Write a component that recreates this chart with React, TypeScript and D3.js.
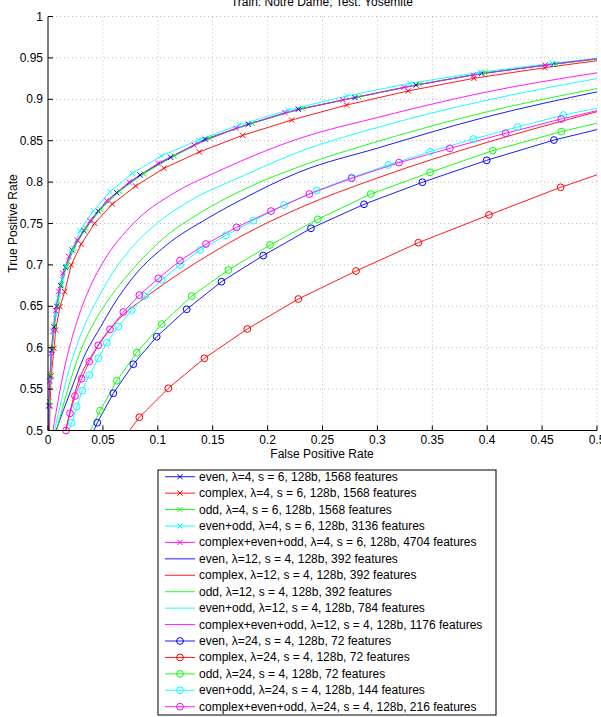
import * as d3 from "d3";

type Pt = [number, number];

// axis ticks
const xTicks = [0, 0.05, 0.1, 0.15, 0.2, 0.25, 0.3, 0.35, 0.4, 0.45, 0.5];
const yTicks = [0.5, 0.55, 0.6, 0.65, 0.7, 0.75, 0.8, 0.85, 0.9, 0.95, 1];

// lambda = 4 (x markers)
const even4: Pt[] = [[0, 0.47], [0.001, 0.53], [0.002, 0.565], [0.0035, 0.597], [0.0055, 0.625], [0.008, 0.65], [0.0115, 0.675], [0.016, 0.697], [0.022, 0.718], [0.0328, 0.7415], [0.0458, 0.765], [0.0626, 0.7872], [0.0838, 0.8086], [0.1117, 0.83], [0.143, 0.8517], [0.1824, 0.8698], [0.228, 0.888], [0.2796, 0.902], [0.3352, 0.9172], [0.395, 0.9314], [0.4602, 0.9423], [0.53, 0.954]];
const complex4: Pt[] = [[0.001, 0.47], [0.0018, 0.53], [0.003, 0.566], [0.0055, 0.5993], [0.007, 0.6214], [0.0109, 0.6495], [0.0152, 0.6676], [0.0212, 0.6999], [0.0303, 0.7252], [0.0425, 0.7502], [0.0586, 0.7735], [0.0798, 0.7953], [0.1056, 0.8167], [0.1378, 0.8364], [0.1773, 0.8565], [0.2219, 0.875], [0.272, 0.8931], [0.3281, 0.9101], [0.388, 0.9254], [0.4526, 0.9382], [0.525, 0.951]];
const odd4: Pt[] = [[0, 0.47], [0.0012, 0.535], [0.0022, 0.568], [0.0038, 0.6], [0.006, 0.627], [0.0087, 0.652], [0.0122, 0.676], [0.017, 0.698], [0.0235, 0.72], [0.0345, 0.744], [0.048, 0.767], [0.065, 0.789], [0.087, 0.81], [0.115, 0.8315], [0.147, 0.853], [0.186, 0.871], [0.232, 0.889], [0.283, 0.903], [0.338, 0.918], [0.398, 0.932], [0.463, 0.9428], [0.53, 0.953]];
const evenOdd4: Pt[] = [[0, 0.47], [0.001, 0.529], [0.0018, 0.561], [0.003, 0.593], [0.0048, 0.619], [0.007, 0.64], [0.0095, 0.66], [0.013, 0.682], [0.016, 0.698], [0.021, 0.716], [0.0291, 0.741], [0.0413, 0.7655], [0.0565, 0.7884], [0.0768, 0.8106], [0.1032, 0.8315], [0.137, 0.8508], [0.1742, 0.869], [0.2189, 0.8871], [0.272, 0.904], [0.3297, 0.9193], [0.3934, 0.9326], [0.4593, 0.9435], [0.53, 0.954]];
const all4: Pt[] = [[0, 0.47], [0.0008, 0.53], [0.0015, 0.56], [0.0028, 0.593], [0.0045, 0.62], [0.0068, 0.645], [0.0098, 0.668], [0.0135, 0.69], [0.019, 0.71], [0.0267, 0.73], [0.0383, 0.7534], [0.0535, 0.7776], [0.0738, 0.7999], [0.1002, 0.8227], [0.133, 0.8448], [0.1712, 0.865], [0.2158, 0.8838], [0.2684, 0.8992], [0.3242, 0.9145], [0.3874, 0.9293], [0.4526, 0.9414], [0.525, 0.953]];

// lambda = 12 (no markers)
const even12: Pt[] = [[0.0073, 0.5], [0.0207, 0.548], [0.0328, 0.589], [0.048, 0.6253], [0.0586, 0.6495], [0.08, 0.689], [0.108, 0.724], [0.145, 0.756], [0.175, 0.778], [0.2295, 0.8125], [0.3, 0.841], [0.4, 0.879], [0.5, 0.909]];
const complex12: Pt[] = [[0.016, 0.5], [0.0255, 0.55], [0.0443, 0.6], [0.065, 0.635], [0.09, 0.662], [0.12, 0.69], [0.1475, 0.713], [0.175, 0.734], [0.2295, 0.769], [0.3, 0.805], [0.4, 0.848], [0.5, 0.885]];
const odd12: Pt[] = [[0.0079, 0.5], [0.0176, 0.548], [0.0298, 0.5966], [0.0449, 0.6374], [0.0571, 0.6616], [0.08, 0.699], [0.105, 0.732], [0.14, 0.764], [0.175, 0.789], [0.2295, 0.819], [0.3, 0.849], [0.4, 0.885], [0.5, 0.913]];
const evenOdd12: Pt[] = [[0.006, 0.5], [0.0191, 0.573], [0.0328, 0.6253], [0.048, 0.6657], [0.0571, 0.6868], [0.075, 0.719], [0.1, 0.751], [0.13, 0.778], [0.175, 0.806], [0.2295, 0.837], [0.3, 0.866], [0.4, 0.899], [0.5, 0.925]];
const all12: Pt[] = [[0.0045, 0.5], [0.0146, 0.573], [0.0267, 0.633], [0.0389, 0.675], [0.051, 0.705], [0.0777, 0.75], [0.115, 0.787], [0.15, 0.81], [0.175, 0.825], [0.2295, 0.853], [0.3, 0.878], [0.4, 0.909], [0.5, 0.932]];

// lambda = 24 (o markers)
const even24: Pt[] = [[0.034, 0.477], [0.0449, 0.5094], [0.0595, 0.545], [0.0777, 0.58], [0.099, 0.6133], [0.1263, 0.6464], [0.158, 0.6797], [0.196, 0.7113], [0.2395, 0.7442], [0.2878, 0.7732], [0.341, 0.7998], [0.3995, 0.8263], [0.4608, 0.8508], [0.53, 0.873]];
const complex24: Pt[] = [[0.06, 0.475], [0.0832, 0.516], [0.1096, 0.551], [0.1424, 0.5872], [0.1815, 0.6226], [0.228, 0.6588], [0.2805, 0.6926], [0.3373, 0.7268], [0.4016, 0.7603], [0.4669, 0.7937], [0.54, 0.827]];
const odd24: Pt[] = [[0.035, 0.49], [0.0474, 0.5239], [0.0626, 0.5601], [0.0808, 0.594], [0.1036, 0.6286], [0.1309, 0.6624], [0.1642, 0.6938], [0.2022, 0.724], [0.2456, 0.755], [0.294, 0.7856], [0.348, 0.8118], [0.405, 0.838], [0.4675, 0.861], [0.535, 0.882]];
const evenOdd24: Pt[] = [[0.014, 0.48], [0.0216, 0.5094], [0.0261, 0.5287], [0.0312, 0.5481], [0.0376, 0.567], [0.0458, 0.5872], [0.0535, 0.606], [0.064, 0.6254], [0.0762, 0.6455], [0.0883, 0.6624], [0.1036, 0.6818], [0.1202, 0.6999], [0.1384, 0.718], [0.162, 0.7357], [0.187, 0.7534], [0.215, 0.7723], [0.2447, 0.7897], [0.2765, 0.8055], [0.31, 0.8207], [0.348, 0.8367], [0.3874, 0.852], [0.4277, 0.8665], [0.4693, 0.881], [0.51, 0.892]];
const all24: Pt[] = [[0.012, 0.48], [0.0164, 0.5], [0.02, 0.5208], [0.0246, 0.5417], [0.0307, 0.5626], [0.0376, 0.5831], [0.0458, 0.6029], [0.0565, 0.6222], [0.0686, 0.6431], [0.0832, 0.6635], [0.1005, 0.6837], [0.1202, 0.7051], [0.1439, 0.7252], [0.1718, 0.7454], [0.2031, 0.765], [0.238, 0.7856], [0.2766, 0.8046], [0.3197, 0.8235], [0.366, 0.8408], [0.4168, 0.859], [0.4675, 0.8762], [0.525, 0.894]];

const labels = [
  "even, λ=4, s = 6, 128b, 1568 features",
  "complex, λ=4, s = 6, 128b, 1568 features",
  "odd, λ=4, s = 6, 128b, 1568 features",
  "even+odd, λ=4, s = 6, 128b, 3136 features",
  "complex+even+odd, λ=4, s = 6, 128b, 4704 features",
  "even, λ=12, s = 4, 128b, 392 features",
  "complex, λ=12, s = 4, 128b, 392 features",
  "odd, λ=12, s = 4, 128b, 392 features",
  "even+odd, λ=12, s = 4, 128b, 784 features",
  "complex+even+odd, λ=12, s = 4, 128b, 1176 features",
  "even, λ=24, s = 4, 128b, 72 features",
  "complex, λ=24, s = 4, 128b, 72 features",
  "odd, λ=24, s = 4, 128b, 72 features",
  "even+odd, λ=24, s = 4, 128b, 144 features",
  "complex+even+odd, λ=24, s = 4, 128b, 216 features",
];
const colors = ["#0000ff", "#ff0000", "#00ff00", "#00ffff", "#ff00ff"];
const seriesData = [even4, complex4, odd4, evenOdd4, all4, even12, complex12, odd12, evenOdd12, all12, even24, complex24, odd24, evenOdd24, all24];

const series = seriesData.map((points, i) => ({
  points,
  label: labels[i],
  color: colors[i % 5],
  marker: i < 5 ? "x" : i < 10 ? "none" : "o",
}));

const FONT = "'Liberation Sans', Arial, Helvetica, sans-serif";

function Marker({ type, cx, cy, color }: { type: string; cx: number; cy: number; color: string }) {
  if (type === "x") {
    const s = 2.6;
    return (
      <path
        d={`M${cx - s},${cy - s}L${cx + s},${cy + s}M${cx - s},${cy + s}L${cx + s},${cy - s}`}
        stroke={color}
        strokeWidth={1}
        fill="none"
      />
    );
  }
  if (type === "o") {
    return <circle cx={cx} cy={cy} r={3.4} stroke={color} strokeWidth={1} fill="none" />;
  }
  return null;
}

export default function App() {
  const width = 601;
  const height = 717;
  const left = 48, right = 597, top = 16.5, bottom = 430.5;

  const x = d3.scaleLinear().domain([0, 0.5]).range([left, right]);
  const y = d3.scaleLinear().domain([0.5, 1]).range([bottom, top]);

  const linear = d3.line<Pt>().x((d) => x(d[0])).y((d) => y(d[1]));
  const smooth = d3.line<Pt>().x((d) => x(d[0])).y((d) => y(d[1])).curve(d3.curveMonotoneX);

  const fmt = (v: number) => String(+v.toFixed(2));

  const legendX = 158, legendY = 470, legendW = 338, legendH = 245;
  const rowY = (i: number) => 476.7 + i * 16.43;

  return (
    <svg
      width={width}
      height={height}
      style={{ position: "absolute", left: 0, top: 0, background: "#fff" }}
      fontFamily={FONT}
    >
      <defs>
        <clipPath id="plotClip">
          <rect x={left} y={top} width={right - left} height={bottom - top} />
        </clipPath>
      </defs>

      {/* grid */}
      {xTicks.filter((t) => t > 0).map((t) => (
        <line key={"gx" + t} x1={x(t)} x2={x(t)} y1={top} y2={bottom} stroke="#a8a8a8" strokeWidth={0.8} strokeDasharray="1,3" />
      ))}
      {yTicks.filter((t) => t > 0.5).map((t) => (
        <line key={"gy" + t} x1={left} x2={right} y1={y(t)} y2={y(t)} stroke="#a8a8a8" strokeWidth={0.8} strokeDasharray="1,3" />
      ))}

      {/* curves */}
      <g clipPath="url(#plotClip)">
        {series.map((s, i) => (
          <path
            key={"l" + i}
            d={(s.marker === "none" ? smooth : linear)(s.points) || ""}
            stroke={s.color}
            strokeWidth={0.9}
            fill="none"
          />
        ))}
      </g>
      {series.map((s, i) =>
        s.points
          .filter((p) => p[0] >= 0 && p[0] <= 0.5 + 1e-6 && p[1] >= 0.5 - 1e-6 && p[1] <= 1)
          .map((p, j) => <Marker key={`m${i}-${j}`} type={s.marker} cx={x(p[0])} cy={y(p[1])} color={s.color} />)
      )}

      {/* axes */}
      <line x1={left} x2={left} y1={top} y2={bottom} stroke="#000" strokeWidth={1} />
      <line x1={left} x2={right} y1={bottom} y2={bottom} stroke="#000" strokeWidth={1} />
      {xTicks.map((t) => (
        <g key={"xt" + t}>
          <line x1={x(t)} x2={x(t)} y1={bottom} y2={bottom - 5} stroke="#000" strokeWidth={1} />
          <text x={x(t)} y={444} textAnchor="middle" fontSize={12} fill="#000">
            {fmt(t)}
          </text>
        </g>
      ))}
      {yTicks.map((t) => (
        <g key={"yt" + t}>
          <line x1={left} x2={left + 5} y1={y(t)} y2={y(t)} stroke="#000" strokeWidth={1} />
          <text x={43} y={y(t)} textAnchor="end" dominantBaseline="central" fontSize={12} fill="#000">
            {fmt(t)}
          </text>
        </g>
      ))}

      {/* labels */}
      <text x={322} y={6} textAnchor="middle" fontSize={12} fill="#000">
        Train: Notre Dame; Test: Yosemite
      </text>
      <text x={322} y={458} textAnchor="middle" fontSize={12} fill="#000">
        False Positive Rate
      </text>
      <text
        transform={`translate(13, ${(top + bottom) / 2}) rotate(-90)`}
        textAnchor="middle"
        dominantBaseline="central"
        fontSize={12}
        fill="#000"
      >
        True Positive Rate
      </text>

      {/* legend */}
      <rect x={legendX} y={legendY} width={legendW} height={legendH} fill="#fff" stroke="#000" strokeWidth={1} />
      {series.map((s, i) => (
        <g key={"lg" + i}>
          <line x1={165} x2={195} y1={rowY(i)} y2={rowY(i)} stroke={s.color} strokeWidth={0.9} />
          <Marker type={s.marker} cx={180} cy={rowY(i)} color={s.color} />
          <text x={199} y={rowY(i)} dominantBaseline="central" fontSize={12} fill="#000">
            {s.label}
          </text>
        </g>
      ))}
    </svg>
  );
}
